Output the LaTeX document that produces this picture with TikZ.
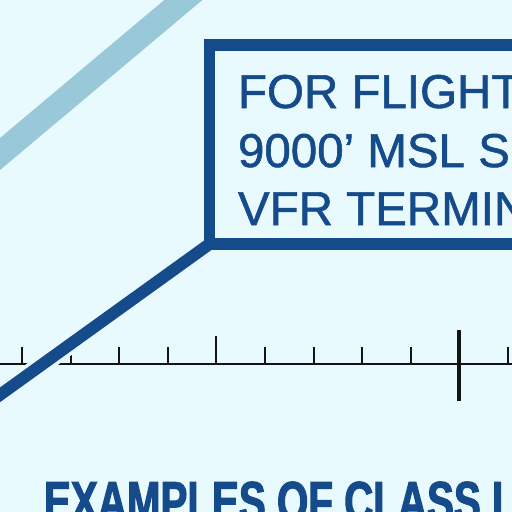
\documentclass[tikz,border=0pt]{standalone}
\usepackage{fontspec}
\setmainfont{Liberation Sans}
\newfontfamily\boxfont{Liberation Sans}[FakeBold=1.2]
\newfontfamily\titlefont{Liberation Sans}[FakeStretch=0.72, FakeBold=2]
\definecolor{bgc}{HTML}{E8FAFD}
\definecolor{skyline}{HTML}{99C9D8}
\definecolor{navy}{HTML}{154B8B}
\begin{document}
\begin{tikzpicture}[x=1pt,y=-1pt,
  boxtext/.style={anchor=base west, inner sep=0pt, outer sep=0pt, text=navy, font=\boxfont\fontsize{47.5}{50}\selectfont},
  titletext/.style={anchor=base west, inner sep=0pt, outer sep=0pt, text=navy, font=\titlefont\bfseries\fontsize{56}{60}\selectfont},
  tickmark/.style={draw=black!92, line width=1.9pt},
  scaleline/.style={draw=black!92, line width=1.8pt},
  calloutbox/.style={draw=navy, line width=11.5pt, outer sep=0pt, inner sep=0pt, minimum width=400pt, minimum height=199pt, anchor=north west},
  leader/.style={draw=navy, line width=12pt, line cap=round},
  halo/.style={draw=bgc, line width=19pt},
  boundary/.style={draw=skyline, line width=24.5pt}
]
\fill[bgc] (0,0) rectangle (512,512);
\useasboundingbox (0,0) rectangle (512,512);
\clip (0,0) rectangle (512,512);

% light blue boundary line
\coordinate (b1) at (-20,170.8);
\coordinate (b2) at (210,-22.4);
\draw[boundary] (b1) -- (b2);

% scale line with ticks
\coordinate (sl) at (-5,364);
\coordinate (sr) at (520,364);
\draw[scaleline] (sl) -- (sr);
\coordinate (t1) at (440,364);
\coordinate (t2) at (470,364);
\draw[scaleline, line width=2.6pt] (t1) -- (t2);
\foreach \x in {22,70.6,119.2,167.8,265,313.6,362.2,410.8,508}
  \draw[tickmark] (\x,364) -- (\x,347);
\draw[tickmark] (216.4,364) -- (216.4,336);
\draw[tickmark, line width=4pt] (459.4,330) -- (459.4,401);

% callout box
\node[calloutbox] (box) at (209.5,45) {};
\coordinate (lineend) at (-35,420);
\draw[halo, shorten <=40pt] (box.south west) -- (lineend);
\draw[leader] (box.south west) -- (lineend);

% box text
\node[boxtext] (l1) at (238,108) {FOR FLIGHT};
\node[boxtext] (l2) at (238,167) {9000’ MSL S};
\node[boxtext] (l3) at (238,225) {VFR TERMIN};

% title
\node[titletext] (title) at (44,520.8) {EXAMPLES OF CLASS I};
\end{tikzpicture}
\end{document}
